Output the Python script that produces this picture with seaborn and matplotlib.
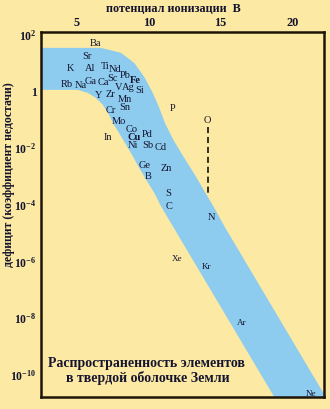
import numpy as np
import matplotlib
matplotlib.use("Agg")
import matplotlib.pyplot as plt
from matplotlib.ticker import NullLocator, FixedLocator
import seaborn as sns
import pandas as pd

# Elements: label position as (ionization potential, log10 of deficit)
elements = ["Ba", "Sr", "K", "Al", "Ti", "Nd", "Pb", "Fe", "Rb", "Na", "Ga", "Ca",
            "Sc", "V", "Ag", "Si", "Y", "Zr", "Mn", "Sn", "Cr", "Mo", "P", "O",
            "Co", "Pd", "Cu", "Ni", "Sb", "Cd", "In", "Ge", "Zn", "B", "S", "C",
            "N", "Xe", "Kr", "Ar", "Ne"]
potential = [6.31, 5.68, 4.56, 5.89, 6.94, 7.66, 8.38, 9.05, 4.28, 5.27, 5.97, 6.84,
             7.50, 7.92, 8.56, 9.33, 6.52, 7.36, 8.34, 8.34, 7.36, 7.92, 11.64, 14.10,
             8.77, 9.89, 8.98, 8.91, 9.96, 10.80, 7.15, 9.68, 11.22, 9.96, 11.36, 11.43,
             14.38, 11.99, 14.03, 16.49, 21.26]
log_deficit = [1.68, 1.22, 0.80, 0.80, 0.87, 0.77, 0.58, 0.38, 0.235, 0.20, 0.34, 0.31,
               0.45, 0.13, 0.13, 0.023, -0.153, -0.118, -0.294, -0.56, -0.68, -1.07, -0.61, -1.04,
               -1.35, -1.53, -1.64, -1.92, -1.92, -1.99, -1.64, -2.62, -2.73, -3.01, -3.61, -4.07,
               -4.46, -5.91, -6.19, -8.17, -10.67]
bold_elements = ["Fe", "Cu"]
small_elements = ["Xe", "Kr", "Ar", "Ne"]

# Abundance band edges (ionization potential, log10 of deficit)
band_upper_potential = [2.0, 6.66, 8.06, 8.98, 9.68, 10.24, 10.70, 11.12, 11.71, 12.42,
                        13.12, 13.82, 14.52, 15.29, 24.0]
band_upper_log = [1.54, 1.54, 1.365, 1.01, 0.517, -0.012, -0.54, -1.106, -1.706, -2.306,
                  -2.87, -3.47, -4.07, -4.78, -12.21]
band_lower_potential = [2.0, 5.05, 5.75, 6.31, 6.80, 7.15, 7.50, 7.92, 8.42, 8.91,
                        9.33, 9.82, 10.38, 10.87, 24.0]
band_lower_log = [0.059, 0.059, -0.047, -0.224, -0.471, -0.753, -1.106, -1.459, -1.883, -2.306,
                  -2.695, -3.118, -3.577, -4.07, -15.27]

# Oxygen marker line
o_line_potential = [14.10, 14.10]
o_line_log = [-1.25, -3.65]

x_ticks = [5, 10, 15, 20]
y_tick_exponents = [2, 0, -2, -4, -6, -8, -10]

title_lines = ["Распространенность элементов", "в твердой оболочке Земли"]
x_label = "потенциал ионизации  В"
y_label = "дефицит (коэффициент недостачи)"

YELLOW = "#FCE9A4"
BLUE = "#8DCBEF"
INK = "#14142E"

sns.set_theme(style="white")
plt.rcParams["font.family"] = ["Liberation Serif", "DejaVu Serif"]
plt.rcParams["mathtext.fontset"] = "custom"
plt.rcParams["mathtext.rm"] = "Liberation Serif"
plt.rcParams["mathtext.bf"] = "Liberation Serif:bold"

fig = plt.figure(figsize=(3.30, 4.09), dpi=100, facecolor=YELLOW)
ax = fig.add_axes([40.7 / 330, 1 - 397 / 409, (324 - 40.7) / 330, (397 - 32) / 409])
ax.set_facecolor(YELLOW)

# band polygon
band_x = list(band_upper_potential) + list(band_lower_potential[::-1])
band_y = [10 ** v for v in band_upper_log] + [10 ** v for v in band_lower_log[::-1]]
ax.set_yscale("log")
ax.fill(band_x, band_y, color=BLUE, lw=0, zorder=1)

# dashed O line
o_df = pd.DataFrame({"ip": o_line_potential, "d": [10 ** v for v in o_line_log]})
sns.lineplot(data=o_df, x="ip", y="d", ax=ax, color="black", lw=1.1,
             estimator=None, errorbar=None, sort=False,
             linestyle=(0, (4, 2.5)), zorder=3)

for name, xv, lv in zip(elements, potential, log_deficit):
    size = 6.5 if name in small_elements else 7.5
    weight = "bold" if name in bold_elements else "normal"
    ax.text(xv, 10 ** lv, name, ha="center", va="center", fontsize=size,
            fontweight=weight, color=INK, zorder=4)

ax.set_xlim(2.47, 22.2)
ax.set_ylim(10 ** -10.78, 10 ** 2.1)
ax.set_xlabel("")
ax.set_ylabel("")

ax.xaxis.tick_top()
ax.set_xticks(x_ticks)
ax.set_xticklabels([str(t) for t in x_ticks], fontsize=8.8, fontweight="bold", color=INK)
ax.yaxis.set_major_locator(FixedLocator([10.0 ** e for e in y_tick_exponents]))
ax.yaxis.set_minor_locator(NullLocator())
ylabels = ["1" if e == 0 else r"$\mathbf{10^{%d}}$" % e for e in y_tick_exponents]
ax.set_yticklabels(ylabels, fontsize=8.4, fontweight="bold", color=INK)
ax.tick_params(axis="x", length=0, pad=2)
ax.tick_params(axis="y", length=0, pad=3)

for sp in ax.spines.values():
    sp.set_color("#1E1408")
    sp.set_linewidth(1.8)
    sp.set_visible(True)

fig.text(173.5 / 330, 1 - 8.5 / 409, x_label, ha="center", va="center",
         fontsize=8.7, fontweight="bold", color=INK)
fig.text(9 / 330, 1 - 175 / 409, y_label, ha="center", va="center", rotation=90,
         fontsize=8.5, fontweight="bold", color=INK)

ax.text(0.375, 0.093, title_lines[0], transform=ax.transAxes, ha="center", va="center",
        fontsize=10, fontweight="bold", color=INK, zorder=5)
ax.text(0.378, 0.052, title_lines[1], transform=ax.transAxes, ha="center", va="center",
        fontsize=10, fontweight="bold", color=INK, zorder=5)

fig.savefig("out.png", dpi=100, facecolor=YELLOW)
